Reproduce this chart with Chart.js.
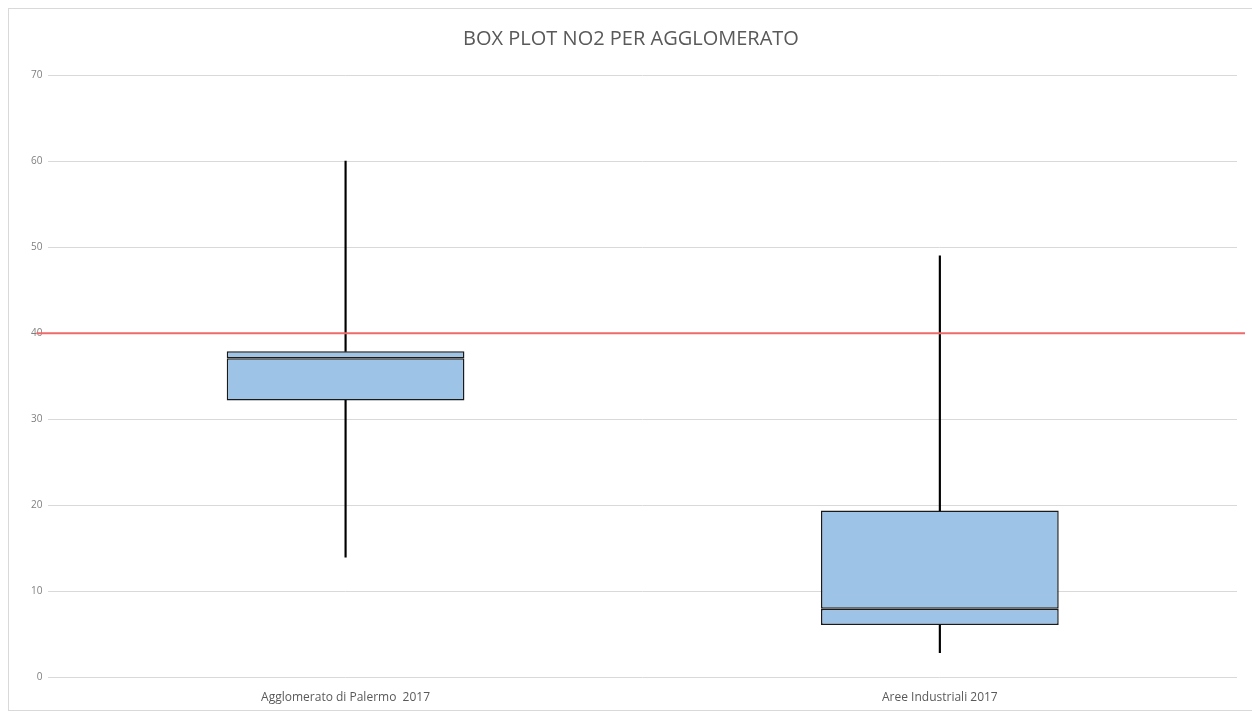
<!DOCTYPE html>
<html lang="it">
<head>
  <meta charset="UTF-8">
  <title>Box plot NO2 per agglomerato</title>
  <script src="https://cdn.jsdelivr.net/npm/chart.js"></script>
  <style>
    body {
      margin: 0;
      background: #ffffff;
      overflow: hidden;
    }

    .frame {
      position: absolute;
      left: 8px;
      top: 8px;
      width: 1250px;
      height: 701px;
      border: 1px solid #d9d9d9;
      background: #ffffff;
    }
  </style>
</head>
<body>

  <div class="frame">
    <canvas id="boxChart"></canvas>
  </div>

  <script>
    // dati
    const categories = ['Agglomerato di Palermo  2017', 'Aree Industriali 2017'];
    const minValues = [14, 2.9];
    const q1Values = [32.2, 6.1];
    const medianValues = [37.1, 8.0];
    const q3Values = [37.9, 19.4];
    const maxValues = [60, 49];
    const limitValue = 40; // valore limite annuale NO2

    const yTicks = [0, 10, 20, 30, 40, 50, 60, 70];

    const pairs = (a, b) => a.map((v, i) => [v, b[i]]);

    // linea rossa del limite
    const limitLine = {
      id: 'limitLine',
      afterDatasetsDraw(chart) {
        const { ctx, chartArea, scales } = chart;
        const y = scales.y.getPixelForValue(limitValue);
        ctx.save();
        ctx.strokeStyle = '#ee6b6b';
        ctx.lineWidth = 2;
        ctx.beginPath();
        ctx.moveTo(chartArea.left - 12, y);
        ctx.lineTo(chartArea.right + 8, y);
        ctx.stroke();
        ctx.restore();
      }
    };

    new Chart(document.getElementById('boxChart'), {
      type: 'bar',
      data: {
        labels: categories,
        datasets: [
          {
            label: 'Whisker sup',
            data: pairs(q3Values, maxValues),
            backgroundColor: '#000000',
            barThickness: 1.5,
            grouped: false
          },
          {
            label: 'Whisker inf',
            data: pairs(minValues, q1Values),
            backgroundColor: '#000000',
            barThickness: 1.5,
            grouped: false
          },
          {
            label: 'Q1 - mediana',
            data: pairs(q1Values, medianValues),
            backgroundColor: '#9dc3e6',
            borderColor: '#1a1a1a',
            borderWidth: 1.5,
            borderSkipped: false,
            barPercentage: 0.4,
            categoryPercentage: 1,
            grouped: false
          },
          {
            label: 'Mediana - Q3',
            data: pairs(medianValues, q3Values),
            backgroundColor: '#9dc3e6',
            borderColor: '#1a1a1a',
            borderWidth: 1.5,
            borderSkipped: false,
            barPercentage: 0.4,
            categoryPercentage: 1,
            grouped: false
          }
        ]
      },
      options: {
        responsive: true,
        maintainAspectRatio: false,
        animation: false,
        layout: {
          padding: { left: 16, right: 22, top: 0, bottom: 0 }
        },
        plugins: {
          legend: { display: false },
          tooltip: { enabled: false },
          title: {
            display: true,
            text: 'BOX PLOT NO2 PER AGGLOMERATO',
            color: '#595959',
            font: { family: 'Open Sans, sans-serif', size: 20, weight: 'normal' },
            padding: { top: 18, bottom: 24 }
          }
        },
        scales: {
          x: {
            grid: { display: false },
            border: { display: false },
            ticks: {
              color: '#595959',
              font: { family: 'Open Sans, sans-serif', size: 12 },
              padding: 5
            }
          },
          y: {
            min: 0,
            max: 70,
            afterBuildTicks(axis) {
              axis.ticks = yTicks.map(v => ({ value: v }));
            },
            grid: { color: '#d9d9d9', lineWidth: 1, drawTicks: false },
            border: { display: false },
            ticks: {
              color: '#7f7f7f',
              font: { family: 'Open Sans, sans-serif', size: 10 },
              padding: 6
            }
          }
        }
      },
      plugins: [limitLine]
    });
  </script>

</body>
</html>
